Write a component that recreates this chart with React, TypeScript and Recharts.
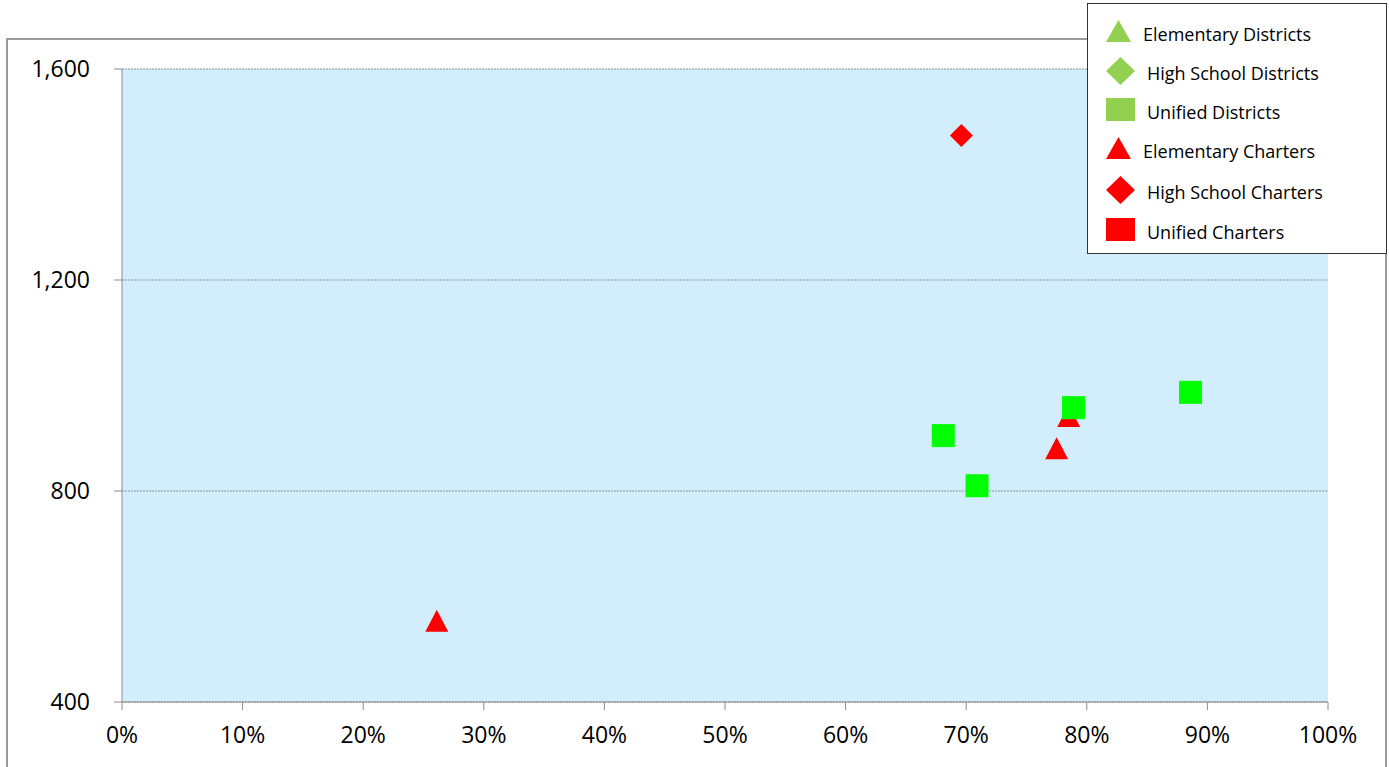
import React from 'react';
import { ScatterChart, Scatter, XAxis, YAxis, CartesianGrid } from 'recharts';

type Pt = { x: number; y: number };

const seriesNames = [
  'Elementary Districts',
  'High School Districts',
  'Unified Districts',
  'Elementary Charters',
  'High School Charters',
  'Unified Charters',
];
const legendColors = ['#92D050', '#92D050', '#92D050', '#FF0000', '#FF0000', '#FF0000'];
const legendShapes = ['triangle', 'diamond', 'square', 'triangle', 'diamond', 'square'];

const elementaryDistricts: Pt[] = [];
const highSchoolDistricts: Pt[] = [];
const unifiedDistricts: Pt[] = [
  { x: 0.681, y: 905 },
  { x: 0.709, y: 810 },
  { x: 0.789, y: 958 },
  { x: 0.886, y: 987 },
];
const elementaryCharters: Pt[] = [
  { x: 0.261, y: 554 },
  { x: 0.775, y: 881 },
  { x: 0.785, y: 942 },
];
const highSchoolCharters: Pt[] = [{ x: 0.696, y: 1474 }];
const unifiedCharters: Pt[] = [];

const xTicks = [0, 0.1, 0.2, 0.3, 0.4, 0.5, 0.6, 0.7, 0.8, 0.9, 1];
const yTicks = [400, 800, 1200, 1600];

const FONT = '"Open Sans", sans-serif';

const Triangle = (props: any) => {
  const { cx, cy, fill } = props;
  return (
    <polygon
      points={`${cx},${cy - 11} ${cx - 11.5},${cy + 11} ${cx + 11.5},${cy + 11}`}
      fill={fill}
    />
  );
};

const Diamond = (props: any) => {
  const { cx, cy, fill } = props;
  return (
    <polygon
      points={`${cx},${cy - 11.5} ${cx + 11.5},${cy} ${cx},${cy + 11.5} ${cx - 11.5},${cy}`}
      fill={fill}
    />
  );
};

const Square = (props: any) => {
  const { cx, cy, fill } = props;
  return <rect x={cx - 11.5} y={cy - 11.5} width={23} height={23} fill={fill} />;
};

const LegendIcon = ({ shape, color }: { shape: string; color: string }) => {
  let el;
  if (shape === 'triangle') el = <polygon points="12.5,2 0,24 25,24" fill={color} />;
  else if (shape === 'diamond') el = <polygon points="14.5,0 29,14 14.5,28 0,14" fill={color} />;
  else el = <rect x={0} y={2} width={29} height={23} fill={color} />;
  return (
    <svg width={29} height={28} style={{ display: 'block' }}>
      {el}
    </svg>
  );
};

// legend drawn as its own box on top of the chart frame
const LegendBox = () => (
  <div
    style={{
      position: 'absolute',
      left: 1087,
      top: 3,
      width: 300,
      height: 251,
      boxSizing: 'border-box',
      border: '1px solid #333',
      background: '#fff',
      fontFamily: FONT,
      fontSize: 18,
      color: '#000',
    }}
  >
    {seriesNames.map((name, i) => (
      <div
        key={name}
        style={{
          position: 'absolute',
          left: 18,
          top: [28, 67, 106, 145, 186, 226][i] - 14,
          height: 28,
          display: 'flex',
          alignItems: 'center',
          whiteSpace: 'nowrap',
        }}
      >
        <LegendIcon shape={legendShapes[i]} color={legendColors[i]} />
        <span style={{ marginLeft: i % 3 === 0 ? 8 : 12, marginTop: 4 }}>{name}</span>
      </div>
    ))}
  </div>
);

const pctFormat = (v: number) => `${Math.round(v * 100)}%`;
const numFormat = (v: number) => v.toLocaleString('en-US');

export default function App() {
  return (
    <div style={{ position: 'relative', width: 1389, height: 767, overflow: 'hidden', background: '#fff' }}>
      <style>{`body{margin:0;overflow:hidden;}`}</style>
      <div
        style={{
          position: 'absolute',
          left: 6,
          top: 38,
          width: 1381,
          height: 800,
          boxSizing: 'border-box',
          border: '2px solid #9a9a9a',
        }}
      />
      <div style={{ position: 'absolute', left: 0, top: 0 }}>
        <ScatterChart width={1389} height={767} margin={{ top: 69, right: 61, left: 0, bottom: 0 }}>
          <CartesianGrid
            vertical={false}
            fill="#D2EEFC"
            stroke="#909090"
            strokeDasharray="2 1"
          />
          <XAxis
            type="number"
            dataKey="x"
            domain={[0, 1]}
            ticks={xTicks}
            tickFormatter={pctFormat}
            height={65}
            tickSize={8}
            tickMargin={17}
            stroke="#8c8c8c"
            tick={{ fill: '#000', fontSize: 23, fontFamily: FONT }}
            interval={0}
          />
          <YAxis
            type="number"
            dataKey="y"
            domain={[400, 1600]}
            ticks={yTicks}
            tickFormatter={numFormat}
            width={122}
            tickSize={8}
            tickMargin={24}
            stroke="#8c8c8c"
            tick={{ fill: '#000', fontSize: 23, fontFamily: FONT }}
            interval={0}
          />
          <Scatter name={seriesNames[0]} data={elementaryDistricts} fill="#92D050" shape={Triangle} isAnimationActive={false} />
          <Scatter name={seriesNames[1]} data={highSchoolDistricts} fill="#92D050" shape={Diamond} isAnimationActive={false} />
          <Scatter name={seriesNames[3]} data={elementaryCharters} fill="#FF0000" shape={Triangle} isAnimationActive={false} />
          <Scatter name={seriesNames[4]} data={highSchoolCharters} fill="#FF0000" shape={Diamond} isAnimationActive={false} />
          <Scatter name={seriesNames[5]} data={unifiedCharters} fill="#FF0000" shape={Square} isAnimationActive={false} />
          <Scatter name={seriesNames[2]} data={unifiedDistricts} fill="#00FF00" shape={Square} isAnimationActive={false} />
        </ScatterChart>
      </div>
      <LegendBox />
    </div>
  );
}
